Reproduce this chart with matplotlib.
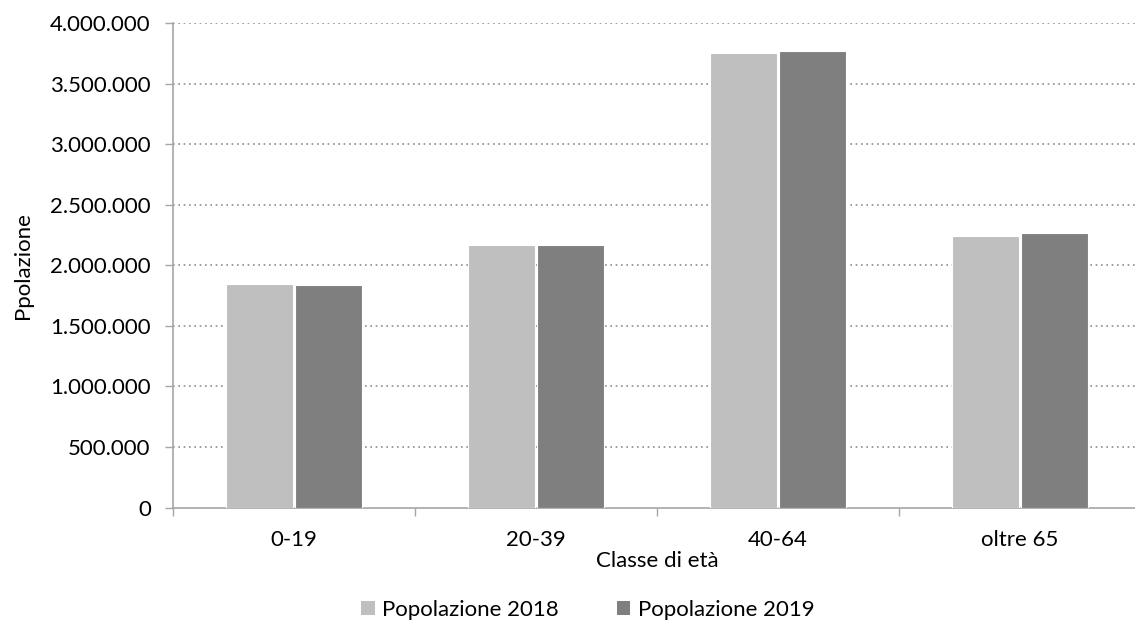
import matplotlib
matplotlib.use("Agg")
import matplotlib.pyplot as plt
from matplotlib.ticker import FuncFormatter, MultipleLocator, FixedLocator
from matplotlib.patches import Patch
import numpy as np

categories = ["0-19", "20-39", "40-64", "oltre 65"]
pop_2018 = [1848000, 2170000, 3755000, 2242000]
pop_2019 = [1840000, 2165000, 3770000, 2267000]
series_labels = ["Popolazione 2018", "Popolazione 2019"]

plt.rcParams['font.family'] = ['Lato', 'DejaVu Sans']
FS = 16

fig = plt.figure(figsize=(11.35, 6.27), dpi=100)
W, H = 1135, 627
left, right, top, bottom = 173, 1141, 23, 507.5
ax = fig.add_axes([left / W, 1 - bottom / H, (right - left) / W, (bottom - top) / H])

x = np.arange(len(categories))
bw = 0.28
off = 0.1425
ax.bar(x - off, pop_2018, width=bw, color="#bfbfbf", edgecolor="white", linewidth=0.8, zorder=3)
ax.bar(x + off, pop_2019, width=bw, color="#7f7f7f", edgecolor="white", linewidth=0.8, zorder=3)

ax.set_xlim(-0.5, len(categories) - 0.5)
ax.set_ylim(0, 4000000)
ax.yaxis.set_major_locator(MultipleLocator(500000))
ax.yaxis.set_major_formatter(FuncFormatter(lambda v, p: f"{int(v):,}".replace(",", ".")))

ax.set_xticks(x)
ax.set_xticklabels(categories)
ax.xaxis.set_minor_locator(FixedLocator(np.arange(-0.5, len(categories), 1.0)))
ax.tick_params(axis='x', which='major', length=0, pad=16, labelsize=FS)
ax.tick_params(axis='x', which='minor', length=6, color="#a6a6a6", width=1)
ax.tick_params(axis='y', length=6, color="#a6a6a6", width=1, labelsize=FS, pad=10)

for v in np.arange(500000, 4000001, 500000):
    ax.axhline(v, color="#8c8c8c", linestyle=(0, (1, 2.2)), linewidth=1.2, zorder=1)

for s in ["top", "right"]:
    ax.spines[s].set_visible(False)
for s in ["left", "bottom"]:
    ax.spines[s].set_color("#a6a6a6")
    ax.spines[s].set_linewidth(1.2)

ax.set_ylabel("Ppolazione", fontsize=FS, labelpad=12)
ax.set_xlabel("Classe di età", fontsize=FS, labelpad=1)

handles = [Patch(facecolor="#bfbfbf"), Patch(facecolor="#7f7f7f")]
fig.legend(handles, series_labels, loc="center", bbox_to_anchor=(0.518, 1 - 610 / H),
           ncol=2, frameon=False, fontsize=FS, handlelength=0.6, handleheight=0.6,
           handletextpad=0.35, columnspacing=2.6)

fig.savefig("out.png", dpi=100)
